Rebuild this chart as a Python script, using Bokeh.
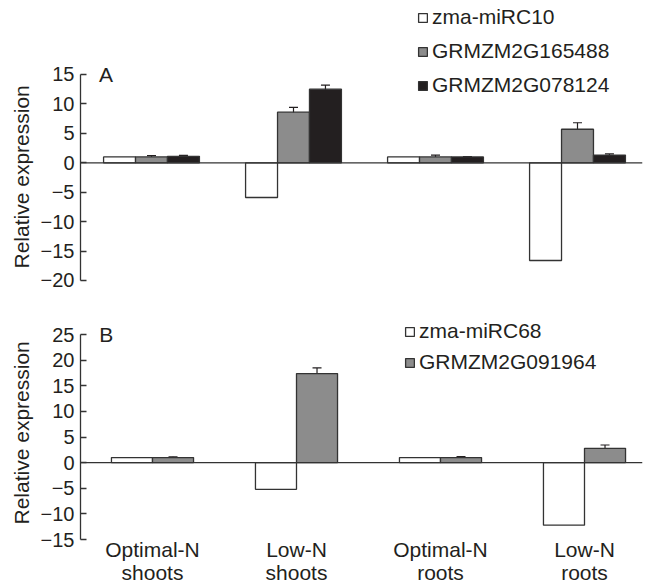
from bokeh.plotting import figure
from bokeh.layouts import column
from bokeh.models import (Range1d, FixedTicker, Span, Whisker, ColumnDataSource,
                          Label, Legend, LegendItem, TeeHead, Title)
from bokeh.embed import file_html
from bokeh.resources import INLINE

# ---------------- data ----------------
categories = ["Optimal-N\nshoots", "Low-N\nshoots", "Optimal-N\nroots", "Low-N\nroots"]

a_names = ["zma-miRC10", "GRMZM2G165488", "GRMZM2G078124"]
a_mirc10 = [1.0, -5.9, 1.0, -16.6]
a_g165488 = [1.0, 8.6, 1.0, 5.7]
a_g078124 = [1.1, 12.5, 1.0, 1.3]
a_err_g165488 = [0.2, 0.8, 0.3, 1.1]
a_err_g078124 = [0.15, 0.7, 0.05, 0.2]
a_ticks = [-20, -15, -10, -5, 0, 5, 10, 15]

b_names = ["zma-miRC68", "GRMZM2G091964"]
b_mirc68 = [1.0, -5.2, 1.0, -12.2]
b_g091964 = [1.0, 17.4, 1.0, 2.8]
b_err_g091964 = [0.15, 1.1, 0.2, 0.65]
b_ticks = [-15, -10, -5, 0, 5, 10, 15, 20, 25]

# ---------------- style ----------------
FONT = "Liberation Sans"
TXT = "#231f20"
EDGE = "#333333"
FILLS = ["#ffffff", "#8c8c8c", "#231f20"]


def minus(v):
    return ("\u2212" + str(abs(v))) if v < 0 else str(v)


def style_yaxis(p, ticks):
    ax = p.yaxis[0]
    ax.ticker = FixedTicker(ticks=ticks)
    ax.bounds = (min(ticks), max(ticks))
    ax.major_label_overrides = {t: minus(t) for t in ticks}
    ax.major_tick_in = 6
    ax.major_tick_out = 0
    ax.minor_tick_line_color = None
    ax.axis_line_color = EDGE
    ax.axis_line_width = 1.3
    ax.major_tick_line_color = EDGE
    ax.major_tick_line_width = 1.3
    ax.major_label_text_font = FONT
    ax.major_label_text_font_size = "20px"
    ax.major_label_text_color = TXT
    ax.major_label_standoff = 6


def base_fig(height, x_end, y0, y1, bottom):
    p = figure(width=645, height=height, x_range=Range1d(0, x_end),
               y_range=Range1d(y0, y1), output_backend="svg",
               toolbar_location=None, min_border_left=80, min_border_right=3,
               min_border_top=0, min_border_bottom=bottom)
    p.xgrid.visible = False
    p.ygrid.visible = False
    p.outline_line_color = None
    p.background_fill_color = "white"
    p.add_layout(Span(location=0, dimension="width", line_color=EDGE, line_width=1.3))
    return p


def add_bars(p, series, errs, width):
    n = len(series)
    renderers = []
    for j, vals in enumerate(series):
        off = (j - (n - 1) / 2) * width
        xs = [i + 0.5 + off for i in range(len(vals))]
        src = ColumnDataSource(dict(x=xs, top=vals))
        r = p.vbar(x="x", top="top", bottom=0, width=width, source=src,
                   fill_color=FILLS[j], line_color=EDGE, line_width=1.3)
        renderers.append(r)
        if errs[j] is not None:
            esrc = ColumnDataSource(dict(x=xs,
                                         upper=[v + e for v, e in zip(vals, errs[j])],
                                         lower=[v - e for v, e in zip(vals, errs[j])]))
            w = Whisker(source=esrc, base="x", upper="upper", lower="lower",
                        dimension="height", line_color=TXT, line_width=1.2,
                        upper_head=TeeHead(size=9, line_color=TXT, line_width=1.2),
                        lower_head=TeeHead(size=9, line_color=TXT, line_width=1.2))
            p.add_layout(w)
    return renderers


def add_legend(p, names, renderers, loc, spacing):
    leg = Legend(items=[LegendItem(label=nm, renderers=[r]) for nm, r in zip(names, renderers)],
                 location=loc, glyph_width=11, glyph_height=11,
                 label_text_font=FONT, label_text_font_size="21px", label_text_color=TXT,
                 label_height=24, spacing=spacing, padding=0, margin=0,
                 label_standoff=4, border_line_color=None, background_fill_alpha=0)
    p.add_layout(leg)


def add_texts(p, letter, y_letter, x_letter, title_offset):
    p.add_layout(Label(x=x_letter, y=y_letter, text=letter, text_font=FONT,
                       text_font_size="21px", text_color=TXT, text_baseline="middle"))
    p.add_layout(Title(text="Relative expression", align="left", offset=title_offset,
                       text_font=FONT, text_font_size="21px", text_color=TXT,
                       text_font_style="normal", standoff=10), "left")


# ---------------- panel A ----------------
pa = base_fig(300, 562 / 142, -21.70, 27.57, 10)
pa.xaxis.visible = False
style_yaxis(pa, a_ticks)
ra = add_bars(pa, [a_mirc10, a_g165488, a_g078124], [None, a_err_g165488, a_err_g078124], 0.225)
add_legend(pa, a_names, ra, (337, 193), 10)
add_texts(pa, "A", max(a_ticks), 0.13, 22)

# ---------------- panel B ----------------
pb = base_fig(286, 562 / 144, -15, 31.667, 41)
style_yaxis(pb, b_ticks)
rb = add_bars(pb, [b_mirc68, b_g091964], [None, b_err_g091964], 0.285)
add_legend(pb, b_names, rb, (324, 165), 7)
add_texts(pb, "B", max(b_ticks), 0.13, 15)

xa = pb.xaxis[0]
xa.ticker = FixedTicker(ticks=[i + 0.5 for i in range(len(categories))])
xa.major_label_overrides = {i + 0.5: c for i, c in enumerate(categories)}
xa.axis_line_color = None
xa.major_tick_line_color = None
xa.minor_tick_line_color = None
xa.major_label_standoff = -8
xa.major_label_text_font = FONT
xa.major_label_text_font_size = "21px"
xa.major_label_text_color = TXT
xa.major_label_text_line_height = 1.0

layout = column(pa, pb, spacing=0)
open("out.html", "w").write(file_html(layout, INLINE))
